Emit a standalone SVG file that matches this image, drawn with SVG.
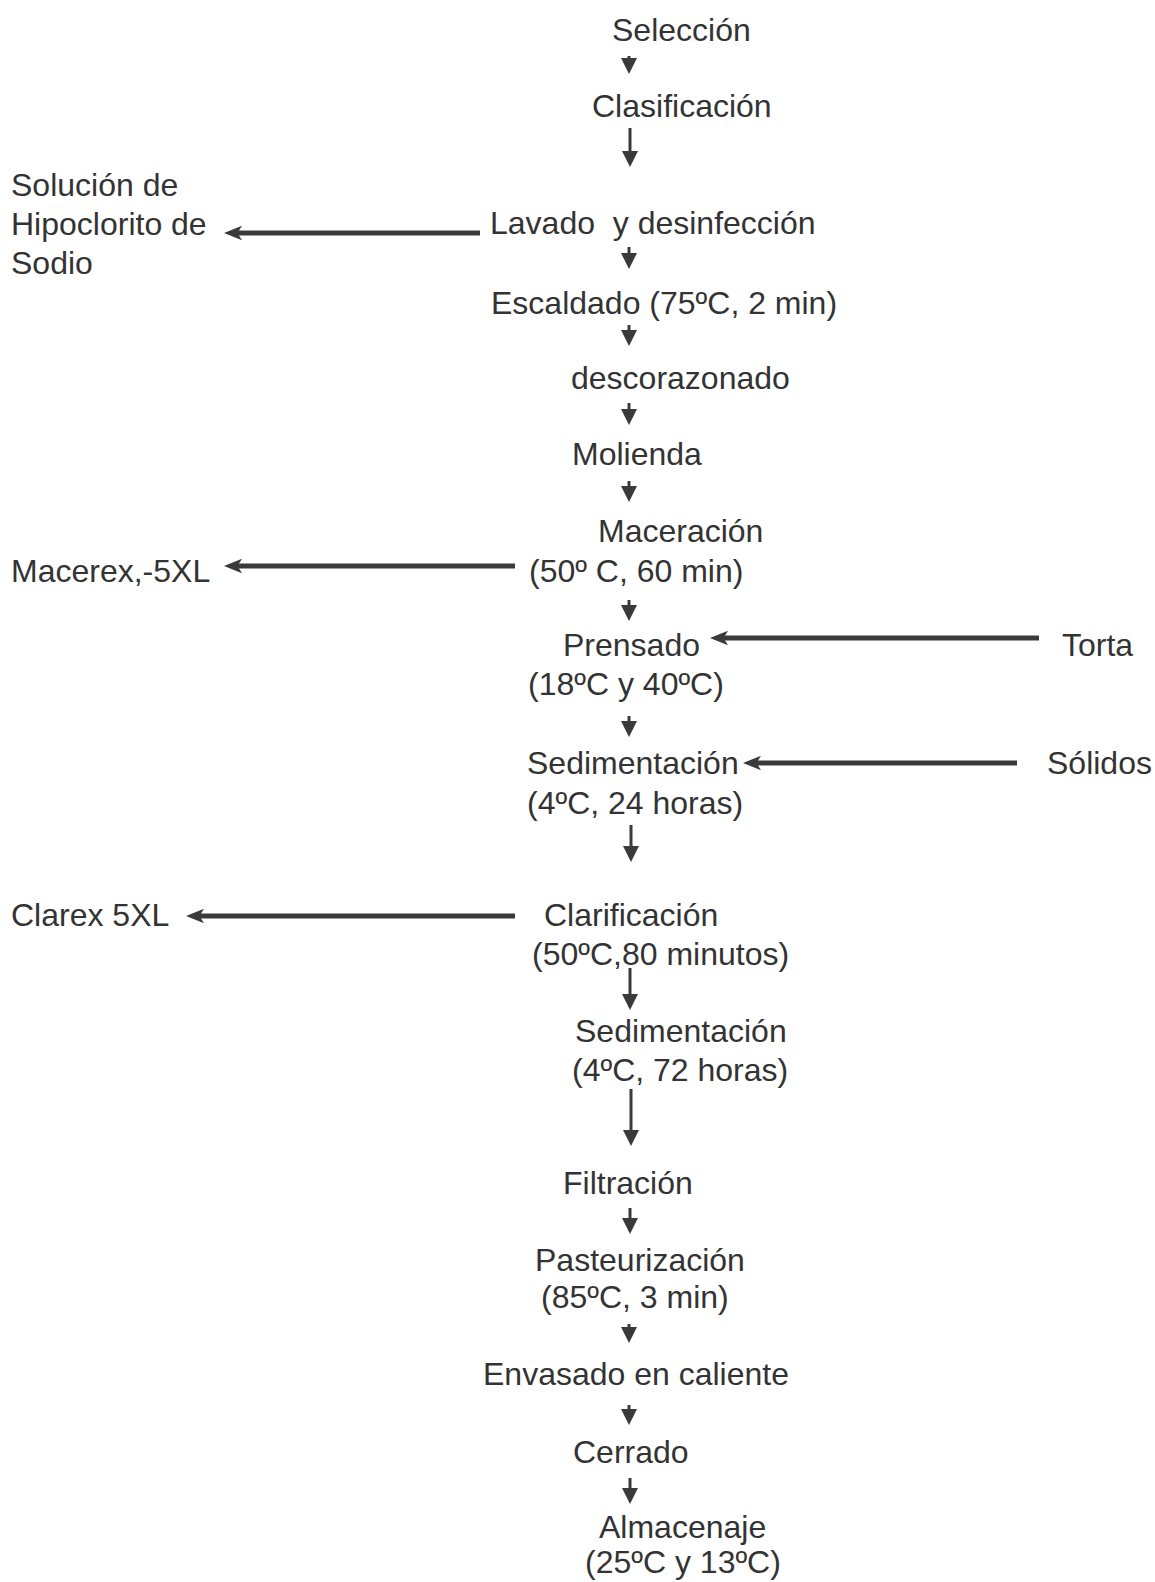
<svg xmlns="http://www.w3.org/2000/svg" width="1155" height="1582" viewBox="0 0 1155 1582">
<defs>
<style>
text{font-family:"Liberation Sans",Arial,sans-serif;font-size:32px;fill:#333}
.v{stroke:#3a3a3a;stroke-width:3;fill:none}
.h{stroke:#3a3a3a;stroke-width:5;fill:none}
</style>
<marker id="av" markerUnits="userSpaceOnUse" markerWidth="16" markerHeight="16" viewBox="0 0 14 14" refX="7" refY="7" orient="auto">
<path d="M0,0 L14,7 L0,14 z" fill="#3a3a3a"/>
</marker>
<marker id="ah" markerUnits="userSpaceOnUse" markerWidth="18" markerHeight="18" viewBox="0 0 16 14" refX="8" refY="7" orient="auto">
<path d="M0,0.5 L16,7 L0,13.5 L4,7 z" fill="#3a3a3a"/>
</marker>
</defs>
<rect width="1155" height="1582" fill="#fff"/>
<g id="connectors">
<line class="v" x1="629" y1="56" x2="629" y2="66" marker-end="url(#av)"/>
<line class="v" x1="630" y1="128" x2="630" y2="159" marker-end="url(#av)"/>
<line class="h" x1="480" y1="233" x2="233" y2="233" marker-end="url(#ah)"/>
<line class="v" x1="629" y1="247" x2="629" y2="261" marker-end="url(#av)"/>
<line class="v" x1="629" y1="325" x2="629" y2="338" marker-end="url(#av)"/>
<line class="v" x1="629" y1="403" x2="629" y2="417" marker-end="url(#av)"/>
<line class="v" x1="629" y1="481" x2="629" y2="494" marker-end="url(#av)"/>
<line class="h" x1="515" y1="566" x2="233" y2="566" marker-end="url(#ah)"/>
<line class="v" x1="629" y1="600" x2="629" y2="613" marker-end="url(#av)"/>
<line class="h" x1="1039" y1="638" x2="719" y2="638" marker-end="url(#ah)"/>
<line class="v" x1="629" y1="716" x2="629" y2="729" marker-end="url(#av)"/>
<line class="h" x1="1017" y1="763" x2="752" y2="763" marker-end="url(#ah)"/>
<line class="v" x1="631" y1="825" x2="631" y2="854" marker-end="url(#av)"/>
<line class="h" x1="515" y1="916" x2="195" y2="916" marker-end="url(#ah)"/>
<line class="v" x1="630" y1="968" x2="630" y2="1002" marker-end="url(#av)"/>
<line class="v" x1="631" y1="1089" x2="631" y2="1138" marker-end="url(#av)"/>
<line class="v" x1="630" y1="1208" x2="630" y2="1226" marker-end="url(#av)"/>
<line class="v" x1="629" y1="1324" x2="629" y2="1335" marker-end="url(#av)"/>
<line class="v" x1="629" y1="1405" x2="629" y2="1417" marker-end="url(#av)"/>
<line class="v" x1="630" y1="1478" x2="630" y2="1496" marker-end="url(#av)"/>
</g>
<g id="n-seleccion"><text x="612" y="41">Selección</text></g>
<g id="n-clasificacion"><text x="592" y="117">Clasificación</text></g>
<g id="n-solucion"><text x="11" y="196">Solución de</text><text x="11" y="235">Hipoclorito de</text><text x="11" y="274">Sodio</text></g>
<g id="n-lavado"><text x="490" y="234" xml:space="preserve">Lavado  y desinfección</text></g>
<g id="n-escaldado"><text x="491" y="314">Escaldado (75ºC, 2 min)</text></g>
<g id="n-descorazonado"><text x="571" y="389">descorazonado</text></g>
<g id="n-molienda"><text x="572" y="465">Molienda</text></g>
<g id="n-maceracion"><text x="598" y="542">Maceración</text><text x="529" y="582">(50º C, 60 min)</text></g>
<g id="n-macerex"><text x="11" y="582">Macerex,-5XL</text></g>
<g id="n-prensado"><text x="563" y="656">Prensado</text><text x="528" y="695">(18ºC y 40ºC)</text></g>
<g id="n-torta"><text x="1062" y="656">Torta</text></g>
<g id="n-sedimentacion1"><text x="527" y="774">Sedimentación</text><text x="527" y="814">(4ºC, 24 horas)</text></g>
<g id="n-solidos"><text x="1047" y="774">Sólidos</text></g>
<g id="n-clarificacion"><text x="544" y="926">Clarificación</text><text x="532" y="965">(50ºC,80 minutos)</text></g>
<g id="n-clarex"><text x="11" y="926">Clarex 5XL</text></g>
<g id="n-sedimentacion2"><text x="575" y="1042">Sedimentación</text><text x="572" y="1081">(4ºC, 72 horas)</text></g>
<g id="n-filtracion"><text x="563" y="1194">Filtración</text></g>
<g id="n-pasteurizacion"><text x="535" y="1271">Pasteurización</text><text x="541" y="1308">(85ºC, 3 min)</text></g>
<g id="n-envasado"><text x="483" y="1385">Envasado en caliente</text></g>
<g id="n-cerrado"><text x="573" y="1463">Cerrado</text></g>
<g id="n-almacenaje"><text x="599" y="1538">Almacenaje</text><text x="585" y="1573">(25ºC y 13ºC)</text></g>
</svg>
